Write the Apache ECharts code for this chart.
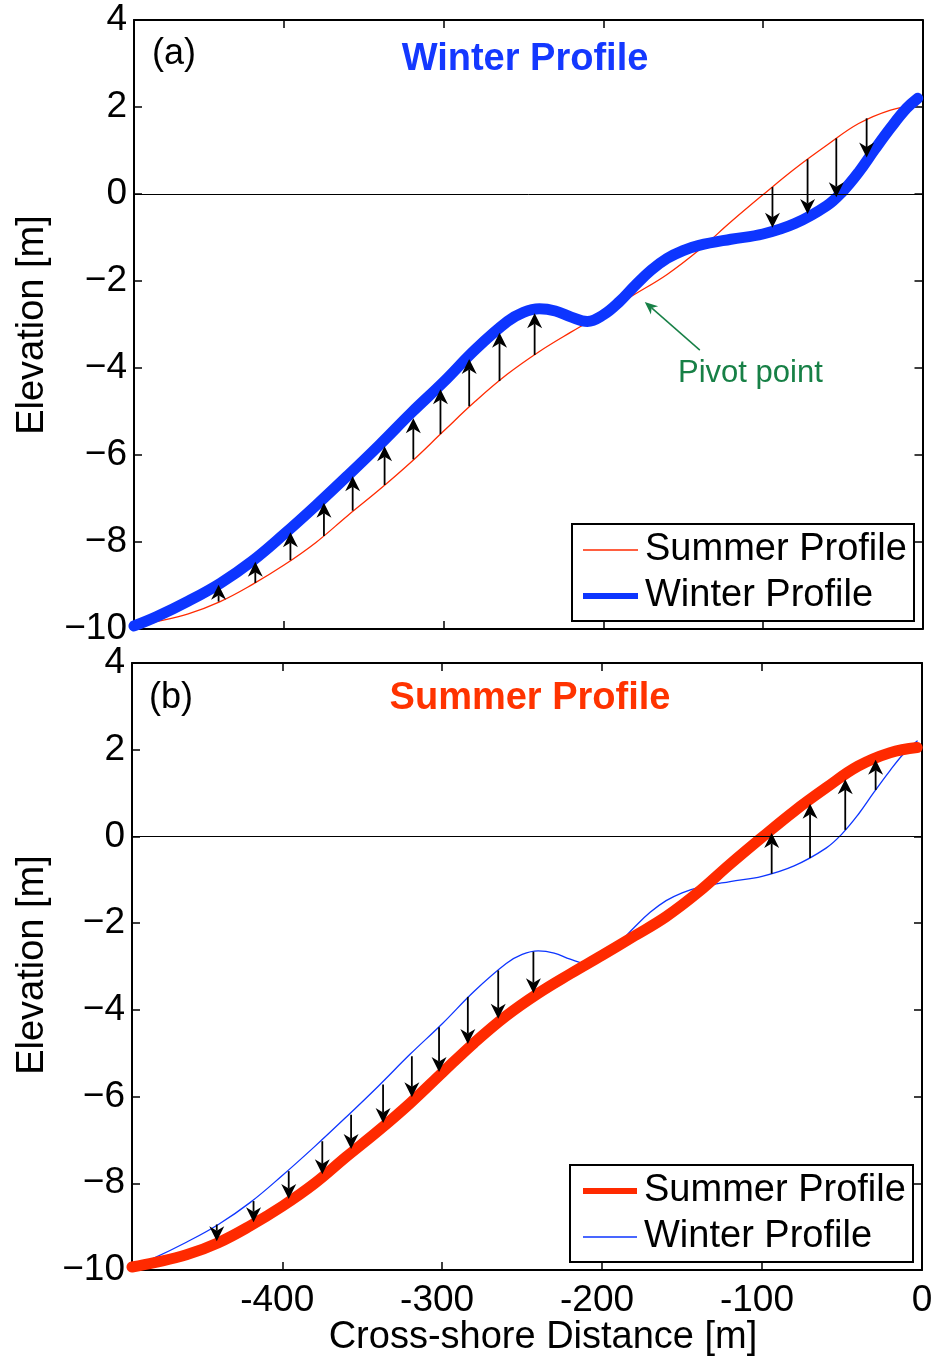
<!DOCTYPE html>
<html><head><meta charset="utf-8">
<script src="https://cdn.jsdelivr.net/npm/echarts@6/dist/echarts.min.js"></script>
<style>html,body{margin:0;padding:0;background:#fff}#c{width:937px;height:1361px}</style>
</head><body><div id="c"></div>
<script>
// ---- data ----
const summerDist = [-494,-480,-460,-440,-420,-400,-380,-360,-340,-320,-300,-280,-260,-240,-220,-200,-180,-160,-140,-120,-100,-80,-60,-40,-20,-3];
const summerElev = [-9.93,-9.83,-9.65,-9.37,-8.98,-8.53,-8.01,-7.39,-6.79,-6.15,-5.45,-4.76,-4.14,-3.62,-3.17,-2.74,-2.30,-1.85,-1.29,-0.64,-0.02,0.58,1.12,1.62,1.93,2.05];
const winterDist = [-494,-480,-460,-440,-420,-400,-380,-360,-340,-320,-300,-280,-260,-250,-240,-230,-220,-210,-200,-190,-180,-170,-160,-150,-140,-120,-100,-80,-60,-50,-40,-30,-20,-10,-3];
const winterElev = [-9.93,-9.72,-9.36,-8.95,-8.44,-7.82,-7.16,-6.47,-5.76,-5.02,-4.32,-3.57,-2.93,-2.72,-2.64,-2.69,-2.83,-2.93,-2.78,-2.48,-2.10,-1.75,-1.48,-1.30,-1.18,-1.04,-0.92,-0.68,-0.27,0.06,0.50,1.02,1.52,1.97,2.20];

// arrows: positions and the two profile elevations there
const arrowDistA   = [-441,-418,-396,-375,-357,-337,-319,-302,-284,-265,-243,-94,-72,-54,-35];
const arrowSummerA = [-9.37,-8.94,-8.42,-7.86,-7.28,-6.69,-6.10,-5.52,-4.88,-4.30,-3.70,0.16,0.80,1.28,1.74];
const arrowWinterA = [-8.95,-8.41,-7.72,-7.03,-6.42,-5.72,-5.07,-4.40,-3.70,-3.09,-2.66,-0.86,-0.57,-0.19,0.76];
const arrowDistB   = [-441,-418,-396,-375,-357,-337,-319,-302,-284,-265,-243,-94,-70,-48,-29];
const arrowSummerB = [-9.37,-8.94,-8.42,-7.86,-7.28,-6.69,-6.10,-5.52,-4.88,-4.30,-3.70,0.16,0.86,1.42,1.83];
const arrowWinterB = [-8.95,-8.41,-7.72,-7.03,-6.42,-5.72,-5.07,-4.40,-3.70,-3.09,-2.66,-0.86,-0.50,0.15,1.07];
const arrowReach = 0.92;

// pivot annotation (tail, head) in data units
const pivotTail = [-139.5, -3.59];
const pivotHead = [-174, -2.48];

const xTickValues = [-400,-300,-200,-100,0];
const xMin = -494, xMax = 0;
const yMin = -10, yMax = 4, yStep = 2;

// ---- styling ----
const FONT = "'Liberation Sans', Arial, Helvetica, sans-serif";
const RED = '#ff2a00', BLUE = '#0d35ff', GREEN = '#178046';

const zip = (a, b) => a.map((v, i) => [v, b[i]]);
const summer = zip(summerDist, summerElev);
const winter = zip(winterDist, winterElev);

function makeArrow(p0, p1, color, lw, hl, hw) {
  const dx = p1[0]-p0[0], dy = p1[1]-p0[1];
  const len = Math.hypot(dx, dy) || 1;
  const ux = dx/len, uy = dy/len, nx = -uy, ny = ux;
  const h = Math.min(hl, len);
  const bx = p1[0]-ux*h, by = p1[1]-uy*h;
  const notch = 0.3*h;
  return {type:'group', children:[
    {type:'line', shape:{x1:p0[0], y1:p0[1], x2:bx+ux*notch, y2:by+uy*notch}, style:{stroke:color, lineWidth:lw}},
    {type:'polygon', shape:{points:[[p1[0],p1[1]],[bx+nx*hw/2, by+ny*hw/2],[bx+ux*notch, by+uy*notch],[bx-nx*hw/2, by-ny*hw/2]]}, style:{fill:color}}
  ]};
}
function arrowRender(color, lw, hl, hw) {
  return function(params, api) {
    const p0 = api.coord([api.value(0), api.value(1)]);
    const p1 = api.coord([api.value(2), api.value(3)]);
    return makeArrow(p0, p1, color, lw, hl, hw);
  };
}
const arrowsA = arrowDistA.map((x, i) => [x, arrowSummerA[i], x, arrowSummerA[i] + arrowReach*(arrowWinterA[i]-arrowSummerA[i])]);
const arrowsB = arrowDistB.map((x, i) => [x, arrowWinterB[i], x, arrowWinterB[i] + arrowReach*(arrowSummerB[i]-arrowWinterB[i])]);

const axisLine = {show:true, onZero:false, lineStyle:{color:'#000', width:2}};
const tick = {show:true, inside:true, length:8, lineStyle:{color:'#000', width:1.5}};
function xAxis(grid, pos, labels) {
  return {type:'value', gridIndex:grid, position:pos, min:xMin, max:xMax,
    axisLine, axisTick:Object.assign({customValues:xTickValues}, tick),
    axisLabel: labels ? {show:true, customValues:xTickValues, fontSize:37, color:'#000', fontFamily:FONT, margin:12,
      // digits are centred on the tick, the minus sign hangs to the left
      formatter: v => v < 0 ? String(v) + '\u00a0' : String(v)} : {show:false},
    splitLine:{show:false}};
}
function yAxis(grid, pos, labels) {
  return {type:'value', gridIndex:grid, position:pos, min:yMin, max:yMax, interval:yStep,
    axisLine, axisTick:tick,
    axisLabel: labels ? {show:true, fontSize:37, color:'#000', fontFamily:FONT, margin:7, padding:[5,0,0,0],
      formatter: v => v < 0 ? '\u2212' + Math.abs(v) : String(v)} : {show:false},
    splitLine:{show:false}};
}
const zeroLine = {silent:true, symbol:['none','none'], label:{show:false}, animation:false,
  lineStyle:{color:'#000', width:1, type:'solid'}, data:[{yAxis:0}]};

function lineSeries(name, data, xi, yi, color, width, z, mark) {
  const s = {type:'line', name, data, xAxisIndex:xi, yAxisIndex:yi, smooth:0.4,
    showSymbol:false, symbol:'none', clip:false, z,
    lineStyle:{color, width, cap:'round', join:'round'}, silent:true};
  if (mark) s.markLine = zeroLine;
  return s;
}

const T = (text, x, y, size, opts) => Object.assign({type:'text', x, y, z:100,
  style:Object.assign({text, font: size + 'px ' + FONT, fill:'#000', align:'left', verticalAlign:'middle'}, (opts||{}).style||{})},
  (opts||{}).el||{});

function legend(x, y, w, h, lineX1, lineX2, y1, y2, textX, c1, w1, c2, w2) {
  return [
    {type:'rect', z:100, shape:{x, y, width:w, height:h}, style:{fill:'#fff', stroke:'#000', lineWidth:2}},
    {type:'line', z:101, shape:{x1:lineX1, y1:y1, x2:lineX2, y2:y1}, style:{stroke:c1, lineWidth:w1}},
    {type:'line', z:101, shape:{x1:lineX1, y1:y2, x2:lineX2, y2:y2}, style:{stroke:c2, lineWidth:w2}},
    T('Summer Profile', textX, y1, 38),
    T('Winter Profile', textX, y2, 38)
  ];
}

const chart = echarts.init(document.getElementById('c'), null, {renderer:'canvas'});
chart.setOption({
  animation:false,
  backgroundColor:'#fff',
  textStyle:{fontFamily:FONT},
  grid:[
    {left:134, top:20, width:788.5, height:609},
    {left:132, top:663, width:790, height:607}
  ],
  xAxis:[xAxis(0,'bottom',false), xAxis(0,'top',false), xAxis(1,'bottom',true), xAxis(1,'top',false)],
  yAxis:[yAxis(0,'left',true), yAxis(0,'right',false), yAxis(1,'left',true), yAxis(1,'right',false)],
  series:[
    lineSeries('Summer Profile', summer, 0, 0, RED, 1.3, 2, true),
    lineSeries('Winter Profile', winter, 0, 0, BLUE, 11, 3, false),
    {type:'custom', xAxisIndex:0, yAxisIndex:0, z:5, silent:true, data:arrowsA,
      encode:{x:[0,2], y:[1,3]}, renderItem:arrowRender('#000', 1.8, 15, 15)},
    {type:'custom', xAxisIndex:0, yAxisIndex:0, z:5, silent:true, data:[[pivotTail[0],pivotTail[1],pivotHead[0],pivotHead[1]]],
      encode:{x:[0,2], y:[1,3]}, renderItem:arrowRender(GREEN, 1.5, 13, 11)},
    lineSeries('Winter Profile', winter, 2, 2, BLUE, 1.3, 2, true),
    lineSeries('Summer Profile', summer, 2, 2, RED, 11, 3, false),
    {type:'custom', xAxisIndex:2, yAxisIndex:2, z:5, silent:true, data:arrowsB,
      encode:{x:[0,2], y:[1,3]}, renderItem:arrowRender('#000', 1.8, 15, 15)}
  ],
  graphic:[
    T('(a)', 152, 54, 36),
    T('Winter Profile', 525, 60, 38, {style:{align:'center', fill:'#1438ff', font:'bold 38px ' + FONT}}),
    T('(b)', 149, 698, 36),
    T('Summer Profile', 530, 699, 38, {style:{align:'center', fill:'#ff3300', font:'bold 38px ' + FONT}}),
    T('Pivot point', 678, 373, 31, {style:{fill:GREEN}}),
    T('Elevation [m]', 33, 325, 38, {style:{align:'center'}, el:{rotation:Math.PI/2}}),
    T('Elevation [m]', 33, 965, 38, {style:{align:'center'}, el:{rotation:Math.PI/2}}),
    T('Cross-shore Distance [m]', 543, 1338, 38, {style:{align:'center'}}),
    ...legend(572, 524, 342, 97, 583, 638, 550, 596, 645, RED, 1.3, BLUE, 6),
    ...legend(570, 1165, 343, 97, 583, 637, 1191, 1237, 644, RED, 6, BLUE, 1.3)
  ]
});
</script></body></html>
